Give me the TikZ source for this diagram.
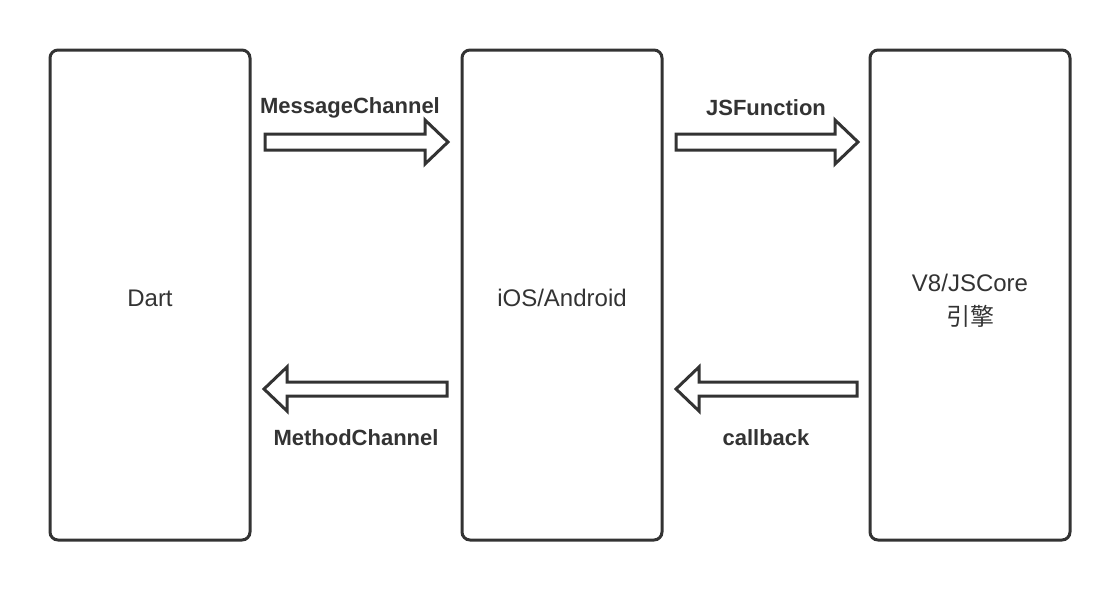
\documentclass[tikz,border=0pt]{standalone}
\usepackage{fontspec}
\setmainfont{Liberation Sans}
\newfontfamily\cjk{Noto Sans CJK SC}
\begin{document}
\begin{tikzpicture}[x=1pt,y=-1pt,
  box/.style={draw=black!80, line width=3pt, rounded corners=8pt, minimum width=200pt, minimum height=490pt, inner sep=0pt},
  boxtext/.style={font=\fontsize{24}{28}\selectfont, text=black!80, align=center},
  fat/.style={draw=black!80, line width=3pt, fill=white, line join=miter},
  lbl/.style={font=\fontsize{22}{26}\selectfont\bfseries, text=black!80}]
\useasboundingbox (0,0) rectangle (1120,590);
\node[box] (dart) at (150,295) {};
\node[box] (os) at (562,295) {};
\node[box] (js) at (970,295) {};
\node[boxtext] (dartt) at (150,298) {Dart};
\node[boxtext] (ost) at (562,298) {iOS/Android};
\node[boxtext] (jst) at (970,301) {V8/JSCore\\[6pt]{\cjk 引擎}};
% arrow Dart -> iOS
\coordinate (a1s) at (265,142);
\coordinate (a1e) at (448,142);
\draw[fat] (a1s) ++(0,-8) -- ++(160,0) -- ++(0,-14) -- (a1e) -- ++(-23,22) -- ++(0,-14) -- ++(-160,0) -- cycle;
\node[lbl] (l1) at (350,108) {MessageChannel};
% arrow iOS -> JS
\coordinate (a2s) at (676,142);
\coordinate (a2e) at (858,142);
\draw[fat] (a2s) ++(0,-8) -- ++(159,0) -- ++(0,-14) -- (a2e) -- ++(-23,22) -- ++(0,-14) -- ++(-159,0) -- cycle;
\node[lbl] (l2) at (766,108) {JSFunction};
% arrow iOS -> Dart
\coordinate (a3s) at (447,389);
\coordinate (a3e) at (264,389);
\draw[fat] (a3s) ++(0,-7) -- ++(-160,0) -- ++(0,-15) -- (a3e) -- ++(23,22) -- ++(0,-15) -- ++(160,0) -- cycle;
\node[lbl] (l3) at (356,438) {MethodChannel};
% arrow JS -> iOS
\coordinate (a4s) at (857,389);
\coordinate (a4e) at (676,389);
\draw[fat] (a4s) ++(0,-7) -- ++(-158,0) -- ++(0,-15) -- (a4e) -- ++(23,22) -- ++(0,-15) -- ++(158,0) -- cycle;
\node[lbl] (l4) at (766,438) {callback};
\end{tikzpicture}
\end{document}
